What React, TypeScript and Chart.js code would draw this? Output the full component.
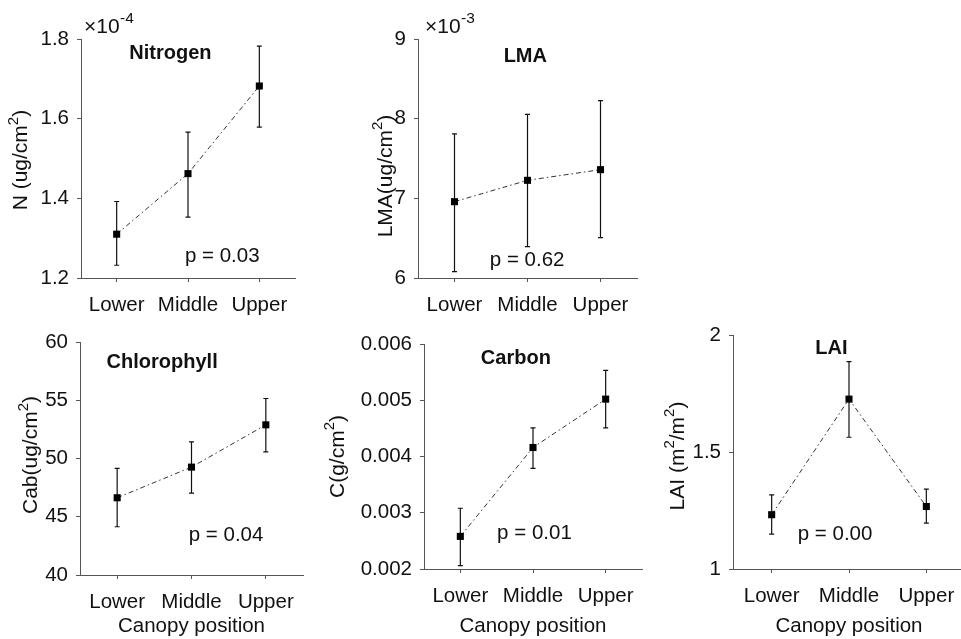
import React, { useEffect, useRef } from "react";
import { Chart, registerables } from "chart.js";

Chart.register(...registerables);

// ---------- data ----------
const categories = ["Lower", "Middle", "Upper"];

// Nitrogen, in units of 10^-4 ug/cm²
const nitrogenMean = [1.31, 1.462, 1.682];
const nitrogenHigh = [1.392, 1.566, 1.782];
const nitrogenLow = [1.232, 1.353, 1.579];
const nitrogenTicks = [1.2, 1.4, 1.6, 1.8];
const nitrogenTickLabels = ["1.2", "1.4", "1.6", "1.8"];

// LMA, in units of 10^-3 ug/cm²
const lmaMean = [6.958, 7.226, 7.36];
const lmaHigh = [7.81, 8.054, 8.226];
const lmaLow = [6.08, 6.393, 6.506];
const lmaTicks = [6, 7, 8, 9];
const lmaTickLabels = ["6", "7", "8", "9"];

// Chlorophyll, ug/cm²
const chlMean = [46.63, 49.26, 52.89];
const chlHigh = [49.15, 51.43, 55.15];
const chlLow = [44.14, 47.03, 50.57];
const chlTicks = [40, 45, 50, 55, 60];
const chlTickLabels = ["40", "45", "50", "55", "60"];

// Carbon, g/cm²
const carbonMean = [0.00258, 0.00416, 0.00502];
const carbonHigh = [0.00308, 0.00451, 0.00553];
const carbonLow = [0.00206, 0.00379, 0.00451];
const carbonTicks = [0.002, 0.003, 0.004, 0.005, 0.006];
const carbonTickLabels = ["0.002", "0.003", "0.004", "0.005", "0.006"];

// LAI, m²/m²
const laiMean = [1.232, 1.726, 1.267];
const laiHigh = [1.317, 1.886, 1.341];
const laiLow = [1.149, 1.563, 1.196];
const laiTicks = [1, 1.5, 2];
const laiTickLabels = ["1", "1.5", "2"];

const pValues = ["p = 0.03", "p = 0.62", "p = 0.04", "p = 0.01", "p = 0.00"];

// ---------- layout / style ----------
const FONT = "'Liberation Sans', Arial, Helvetica, sans-serif";
const TEXT = "#111";
const AXIS = "#555";

type Part = { t: string; sup?: boolean };

type Panel = {
  title: string;
  yTitle: Part[];
  mean: number[];
  high: number[];
  low: number[];
  ticks: number[];
  tickLabels: string[];
  pText: string;
  exponent?: string;
  expoOffset?: number;
  left: number;
  top: number;
  width: number;
  height: number;
  padTop: number;
  padRight: number;
  yWidth: number;
  xHeight: number;
  yTitleX: number;
  yTitleMid: number;
  xTitle: boolean;
  titleAt: [number, number];
  pAt: [number, number];
};

const panels: Panel[] = [
  {
    title: "Nitrogen",
    yTitle: [{ t: "N (ug/cm" }, { t: "2", sup: true }, { t: ")" }],
    mean: nitrogenMean, high: nitrogenHigh, low: nitrogenLow,
    ticks: nitrogenTicks, tickLabels: nitrogenTickLabels, pText: pValues[0],
    exponent: "-4", expoOffset: 3,
    left: 0, top: 9, width: 307, height: 309, padTop: 30, padRight: 12,
    yWidth: 81, xHeight: 40, yTitleX: 27, yTitleMid: 1.496, xTitle: false,
    titleAt: [0.753, 1.764], pAt: [1.48, 1.255],
  },
  {
    title: "LMA",
    yTitle: [{ t: "LMA(ug/cm" }, { t: "2", sup: true }, { t: ")" }],
    mean: lmaMean, high: lmaHigh, low: lmaLow,
    ticks: lmaTicks, tickLabels: lmaTickLabels, pText: pValues[1],
    exponent: "-3", expoOffset: 7,
    left: 330, top: 9, width: 319, height: 309, padTop: 30, padRight: 12,
    yWidth: 88, xHeight: 40, yTitleX: 61.5, yTitleMid: 7.28, xTitle: false,
    titleAt: [0.97, 8.78], pAt: [0.995, 6.226],
  },
  {
    title: "Chlorophyll",
    yTitle: [{ t: "Cab(ug/cm" }, { t: "2", sup: true }, { t: ")" }],
    mean: chlMean, high: chlHigh, low: chlLow,
    ticks: chlTicks, tickLabels: chlTickLabels, pText: pValues[2],
    left: 0, top: 312, width: 315, height: 327, padTop: 30, padRight: 12,
    yWidth: 80, xHeight: 64, yTitleX: 37, yTitleMid: 50.3, xTitle: true,
    titleAt: [0.605, 58.2], pAt: [1.465, 43.43],
  },
  {
    title: "Carbon",
    yTitle: [{ t: "C(g/cm" }, { t: "2", sup: true }, { t: ")" }],
    mean: carbonMean, high: carbonHigh, low: carbonLow,
    ticks: carbonTicks, tickLabels: carbonTickLabels, pText: pValues[3],
    left: 320, top: 314, width: 330, height: 325, padTop: 30, padRight: 8,
    yWidth: 104, xHeight: 70, yTitleX: 23.5, yTitleMid: 0.004, xTitle: true,
    titleAt: [0.764, 0.005751], pAt: [1.02, 0.002628],
  },
  {
    title: "LAI",
    yTitle: [{ t: "LAI (m" }, { t: "2", sup: true }, { t: "/m" }, { t: "2", sup: true }, { t: ")" }],
    mean: laiMean, high: laiHigh, low: laiLow,
    ticks: laiTicks, tickLabels: laiTickLabels, pText: pValues[4],
    left: 650, top: 305, width: 327, height: 334, padTop: 30, padRight: 12,
    yWidth: 83, xHeight: 70, yTitleX: 33.5, yTitleMid: 1.483, xTitle: true,
    titleAt: [0.772, 1.943], pAt: [0.82, 1.146],
  },
];

function drawRotatedRich(ctx: CanvasRenderingContext2D, parts: Part[], bx: number, cy: number, base: number, sup: number) {
  ctx.save();
  ctx.translate(bx, cy);
  ctx.rotate(-Math.PI / 2);
  ctx.textAlign = "left";
  ctx.textBaseline = "alphabetic";
  let total = 0;
  const widths = parts.map((p) => {
    ctx.font = `${p.sup ? sup : base}px ${FONT}`;
    const w = ctx.measureText(p.t).width;
    total += w;
    return w;
  });
  let x = -total / 2;
  parts.forEach((p, i) => {
    ctx.font = `${p.sup ? sup : base}px ${FONT}`;
    ctx.fillText(p.t, x, p.sup ? -base * 0.45 : 0);
    x += widths[i];
  });
  ctx.restore();
}

function makeDecorPlugin(p: Panel) {
  return {
    id: "decor",
    beforeDatasetsDraw(chart: any) {
      const { ctx } = chart;
      const x = chart.scales.x;
      const y = chart.scales.y;
      ctx.save();
      ctx.strokeStyle = "#111";
      ctx.lineWidth = 1.2;
      p.mean.forEach((_m, i) => {
        const px = x.getPixelForValue(i);
        const yt = y.getPixelForValue(p.high[i]);
        const yb = y.getPixelForValue(p.low[i]);
        ctx.beginPath();
        ctx.moveTo(px, yt);
        ctx.lineTo(px, yb);
        ctx.moveTo(px - 2.5, yt);
        ctx.lineTo(px + 2.5, yt);
        ctx.moveTo(px - 2.5, yb);
        ctx.lineTo(px + 2.5, yb);
        ctx.stroke();
      });
      ctx.restore();
    },
    afterDraw(chart: any) {
      const { ctx, chartArea } = chart;
      const x = chart.scales.x;
      const y = chart.scales.y;
      ctx.save();
      ctx.fillStyle = TEXT;
      ctx.textAlign = "center";
      ctx.textBaseline = "middle";
      ctx.font = `bold 20px ${FONT}`;
      ctx.fillText(p.title, x.getPixelForValue(p.titleAt[0]), y.getPixelForValue(p.titleAt[1]));
      ctx.font = `20.5px ${FONT}`;
      ctx.fillText(p.pText, x.getPixelForValue(p.pAt[0]), y.getPixelForValue(p.pAt[1]));
      drawRotatedRich(ctx, p.yTitle, p.yTitleX, y.getPixelForValue(p.yTitleMid), 21, 15);
      if (p.exponent) {
        ctx.textAlign = "left";
        ctx.textBaseline = "alphabetic";
        const bx = chartArea.left + (p.expoOffset || 4);
        const by = chartArea.top - 6;
        ctx.font = `21px ${FONT}`;
        const base = "×10";
        ctx.fillText(base, bx, by);
        const w = ctx.measureText(base).width;
        ctx.font = `15.5px ${FONT}`;
        ctx.fillText(p.exponent, bx + w + 0.5, by - 10);
      }
      ctx.restore();
    },
  };
}

function PanelChart({ p }: { p: Panel }) {
  const ref = useRef<HTMLCanvasElement | null>(null);
  useEffect(() => {
    if (!ref.current) return;
    const tickFont = { family: FONT, size: 20.5 };
    const chart = new Chart(ref.current, {
      type: "line",
      data: {
        labels: categories,
        datasets: [
          {
            data: p.mean,
            borderColor: "#333",
            borderWidth: 1,
            borderDash: [5, 3, 1.5, 3],
            pointStyle: "rect",
            pointRadius: 5,
            pointBackgroundColor: "#000",
            pointBorderColor: "#000",
            pointBorderWidth: 0,
            fill: false,
            tension: 0,
          },
        ],
      },
      options: {
        animation: false,
        responsive: false,
        maintainAspectRatio: false,
        events: [],
        layout: { padding: { top: p.padTop, right: p.padRight, left: 0, bottom: 0 } },
        plugins: { legend: { display: false }, tooltip: { enabled: false } },
        scales: {
          x: {
            type: "category",
            offset: true,
            grid: { display: true, drawOnChartArea: false, drawTicks: true, tickLength: 4, color: AXIS, offset: false },
            border: { display: true, color: AXIS, width: 1 },
            ticks: { font: tickFont, color: TEXT, padding: 11, maxRotation: 0, autoSkip: false },
            title: {
              display: p.xTitle,
              text: "Canopy position",
              font: tickFont,
              color: TEXT,
              padding: { top: 0, bottom: 0 },
            },
            afterFit: (s: any) => { s.height = p.xHeight; },
          },
          y: {
            type: "linear",
            min: p.ticks[0],
            max: p.ticks[p.ticks.length - 1],
            afterBuildTicks: (s: any) => { s.ticks = p.ticks.map((v) => ({ value: v })); },
            ticks: {
              font: tickFont,
              color: TEXT,
              padding: 8,
              callback: (_v: any, i: number) => p.tickLabels[i],
            },
            grid: { display: true, drawOnChartArea: false, drawTicks: true, tickLength: 4, color: AXIS },
            border: { display: true, color: AXIS, width: 1 },
            title: { display: false },
            afterFit: (s: any) => { s.width = p.yWidth; },
          },
        },
      },
      plugins: [makeDecorPlugin(p)],
    } as any);
    return () => chart.destroy();
  }, [p]);
  return (
    <canvas
      ref={ref}
      width={p.width}
      height={p.height}
      style={{ position: "absolute", left: p.left, top: p.top, width: p.width, height: p.height }}
    />
  );
}

export default function App() {
  return (
    <div
      style={{
        position: "fixed",
        left: 0,
        top: 0,
        width: 961,
        height: 639,
        overflow: "hidden",
        background: "#fff",
      }}
    >
      {panels.map((p, i) => (
        <PanelChart key={i} p={p} />
      ))}
    </div>
  );
}
